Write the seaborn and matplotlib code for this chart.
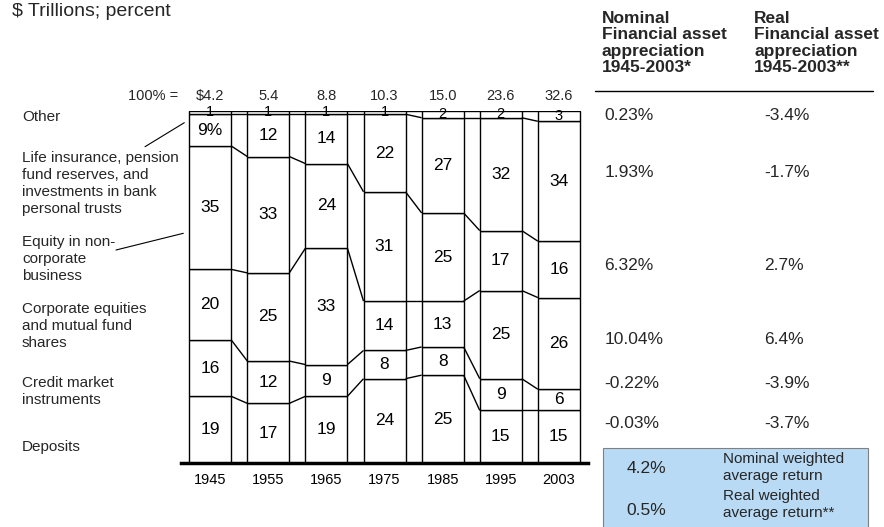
import matplotlib
matplotlib.use("Agg")
import matplotlib.pyplot as plt
from matplotlib.lines import Line2D
from matplotlib.patches import Rectangle
import seaborn as sns
import numpy as np

# ---------------- data ----------------
years = ['1945', '1955', '1965', '1975', '1985', '1995', '2003']
totals = ['$4.2', '5.4', '8.8', '10.3', '15.0', '23.6', '32.6']

# layers from bottom to top (percent of total)
deposits = [19, 17, 19, 24, 25, 15, 15]
credit = [16, 12, 9, 8, 8, 9, 6]
corporate = [20, 25, 33, 14, 13, 25, 26]
noncorp = [35, 33, 24, 31, 25, 17, 16]
lifeins = [9, 12, 14, 22, 27, 32, 34]
other = [1, 1, 1, 1, 2, 2, 3]

layer_names = ['Deposits', 'Credit market\ninstruments',
               'Corporate equities\nand mutual fund\nshares',
               'Equity in non-\ncorporate\nbusiness',
               'Life insurance, pension\nfund reserves, and\ninvestments in bank\npersonal trusts',
               'Other']
nominal = ['-0.03%', '-0.22%', '10.04%', '6.32%', '1.93%', '0.23%']
real = ['-3.7%', '-3.9%', '6.4%', '2.7%', '-1.7%', '-3.4%']
weighted_values = ['4.2%', '0.5%']
weighted_labels = ['Nominal weighted\naverage return', 'Real weighted\naverage return**']

layers = [deposits, credit, corporate, noncorp, lifeins, other]

# ---------------- style ----------------
sns.set_theme(style="white")
plt.rcParams['font.family'] = ['Liberation Sans', 'DejaVu Sans']

W, H = 884, 527
fig = plt.figure(figsize=(W / 100, H / 100), dpi=100)


def fx(x):
    return x / W


def fy(y):
    return 1 - y / H


# main axes positioned in pixels
ax_l, ax_r, ax_t, ax_b = 181.15, 587.9, 110.7, 463.3
ax = fig.add_axes([fx(ax_l), fy(ax_b), (ax_r - ax_l) / W, (ax_b - ax_t) / H])

bw = 0.723
bottom = np.zeros(len(years))
cums = [bottom.copy()]
for li, vals in enumerate(layers):
    sns.barplot(x=years, y=vals, bottom=bottom, color='white', saturation=1,
                edgecolor='black', linewidth=1.0, width=bw, errorbar=None, ax=ax)
    bottom = bottom + np.array(vals)
    cums.append(bottom.copy())

# connectors between bars
xs = np.arange(len(years))
for lev in cums:
    for i in range(len(years) - 1):
        ax.plot([xs[i] + bw / 2, xs[i + 1] - bw / 2], [lev[i], lev[i + 1]],
                color='black', lw=1.0, solid_capstyle='butt')

# segment labels
for li, vals in enumerate(layers):
    for i, v in enumerate(vals):
        yc = cums[li][i] + v / 2
        if li == len(layers) - 1:
            ax.text(i, yc, str(v), ha='center', va='center', fontsize=10.5,
                    color='black', clip_on=False)
        else:
            lab = f"{v}%" if (li == 4 and i == 0) else str(v)
            ax.text(i, yc, lab, ha='center', va='center', fontsize=12.5, color='black')

# totals row
for i, t in enumerate(totals):
    ax.text(i, 104.2, t, ha='center', va='center', fontsize=10.5, clip_on=False)
fig.text(fx(178.5), fy(96), '100% =', ha='right', va='center', fontsize=10.5)

ax.set_xlim(-0.5, len(years) - 0.5)
ax.set_ylim(0, 100)
ax.set_xlabel('')
ax.set_ylabel('')
ax.set_yticks([])
for s in ['top', 'left', 'right']:
    ax.spines[s].set_visible(False)
ax.spines['bottom'].set_linewidth(2.5)
ax.spines['bottom'].set_color('black')
ax.tick_params(axis='x', length=0, pad=7, labelsize=10.5, colors='black')
ax.patch.set_alpha(0)

# ---------------- left labels ----------------
label_y = [446.7, 391.7, 326, 259, 183.5, 117.3]
for name, y in zip(layer_names, label_y):
    fig.text(fx(22), fy(y), name, ha='left', va='center', fontsize=11,
             linespacing=1.3)

# leader lines
fig.add_artist(Line2D([fx(145), fx(184.3)], [fy(146.7), fy(122.7)], color='black', lw=0.8))
fig.add_artist(Line2D([fx(116), fx(183.3)], [fy(250), fy(233.3)], color='black', lw=0.8))

# title
fig.text(fx(12.5), fy(11.5), '$ Trillions; percent', ha='left', va='center', fontsize=14)

# ---------------- right table ----------------
fig.text(fx(601.7), fy(43), 'Nominal\nFinancial asset\nappreciation\n1945-2003*',
         ha='left', va='center', fontsize=12.5, fontweight='bold', linespacing=1.13)
fig.text(fx(754.3), fy(43), 'Real\nFinancial asset\nappreciation\n1945-2003**',
         ha='left', va='center', fontsize=12.5, fontweight='bold', linespacing=1.13)
fig.add_artist(Line2D([fx(595), fx(872.7)], [fy(90.7), fy(90.7)], color='black', lw=1.0))

val_y = [423.3, 383.3, 339, 266, 172.3, 115]
for n, r, y in zip(nominal, real, val_y):
    fig.text(fx(604.5), fy(y), n, ha='left', va='center', fontsize=12.5)
    fig.text(fx(764.3), fy(y), r, ha='left', va='center', fontsize=12.5)

# weighted average box
fig.add_artist(Rectangle((fx(602.7), fy(530)), (867.7 - 602.7) / W, (530 - 447.7) / H,
                         facecolor='#B8DAF4', edgecolor='#808080', lw=0.8,
                         transform=fig.transFigure))
for v, lab, y1, y2 in zip(weighted_values, weighted_labels, [468.3, 510.7], [467.5, 504.2]):
    fig.text(fx(626.7), fy(y1), v, ha='left', va='center', fontsize=12.5)
    fig.text(fx(722.7), fy(y2), lab, ha='left', va='center', fontsize=11, linespacing=1.3)

fig.savefig('out.png', dpi=100)
